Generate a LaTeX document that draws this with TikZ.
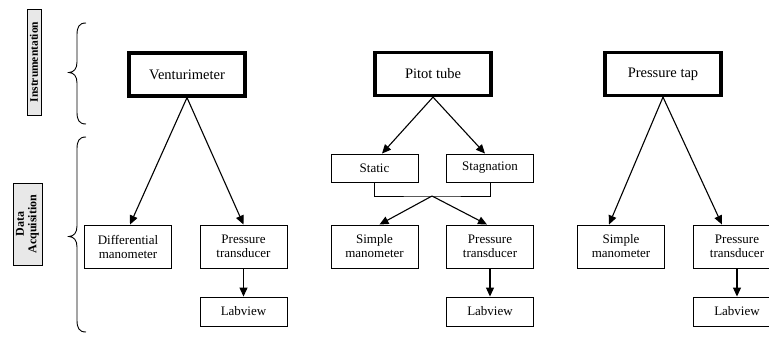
\documentclass[tikz,border=0pt]{standalone}
\usepackage{fontspec}
\setmainfont{Liberation Serif}
\usetikzlibrary{arrows.meta}
\begin{document}
\begin{tikzpicture}[x=1pt,y=-1pt,
  topbox/.style={draw, line width=3.2pt, minimum width=116pt, minimum height=43pt, inner sep=0pt,
    font=\fontsize{14.5}{16}\selectfont},
  box/.style={draw, line width=0.9pt, minimum width=87pt, inner sep=0pt, align=center,
    font=\fontsize{13}{14}\selectfont},
  lbl/.style={draw, line width=0.7pt, fill=black!9, inner sep=0pt, rotate=90, align=center,
    font=\bfseries},
  arr/.style={-{Triangle[length=9pt,width=8pt]}, line width=1.1pt},
  wire/.style={line width=0.9pt},
  brace/.style={line width=0.9pt}
]
\useasboundingbox (0,0) rectangle (769,337);

% side labels
\node[lbl, minimum width=106pt, minimum height=14pt, font=\fontsize{11.5}{12}\selectfont\bfseries] (instr) at (34,62) {Instrumentation};
\node[lbl, minimum width=82pt, minimum height=29pt, font=\fontsize{12}{12.5}\selectfont\bfseries] (daq) at (27.5,224) {Data\\Acquisition};

% braces
\draw[brace] (86,23) .. controls (79,23) and (77,27) .. (77,35) -- (77,62)
  .. controls (77,69) and (74,72) .. (69,72.5)
  .. controls (74,73) and (77,76) .. (77,83) -- (77,112)
  .. controls (77,120) and (79,124) .. (86,124);
\draw[brace] (86,137) .. controls (79,137) and (77,141) .. (77,149) -- (77,226)
  .. controls (77,233) and (74,236) .. (69,236.5)
  .. controls (74,237) and (77,240) .. (77,247) -- (77,320)
  .. controls (77,328) and (79,332) .. (86,332);

% column 1
\node[topbox] (vent) at (187,74.5) {Venturimeter};
\node[box, minimum height=43pt] (diff) at (128,246.5) {Differential\\manometer};
\node[box, minimum height=43pt] (pt1) at (243.5,246.5) {Pressure\\transducer};
\node[box, minimum height=29pt] (lv1) at (243.5,311.5) {Labview};
\draw[arr] (vent.south) -- ([xshift=2pt]diff.north);
\draw[arr] (vent.south) -- (pt1.north);
\draw[arr] (pt1.south) -- (lv1.north);

% column 2
\node[topbox] (pitot) at (433,74) {Pitot tube};
\node[box, minimum height=28pt] (static) at (374.5,168) {Static};
\node[box, minimum height=28pt] (stag) at (490,168) {Stagnation};
\node[box, minimum height=43pt] (sm2) at (374.5,246.5) {Simple\\manometer};
\node[box, minimum height=43pt] (pt2) at (490,246.5) {Pressure\\transducer};
\node[box, minimum height=29pt] (lv2) at (490,311.5) {Labview};
\coordinate (j) at (432,196);
\draw[arr] (pitot.south) -- ([xshift=7.5pt]static.north);
\draw[arr] (pitot.south) -- ([xshift=-5pt]stag.north);
\draw[wire] (static.south) |- (j) -| (stag.south);
\draw[arr] (j) -- ([xshift=5pt]sm2.north);
\draw[arr] (j) -- ([xshift=-3pt]pt2.north);
\draw[arr] (pt2.south) -- (lv2.north);

% column 3
\node[topbox] (ptap) at (663,74) {Pressure tap};
\node[box, minimum height=43pt] (sm3) at (621,246.5) {Simple\\manometer};
\node[box, minimum height=43pt] (pt3) at (737,246.5) {Pressure\\transducer};
\node[box, minimum height=29pt] (lv3) at (737,311.5) {Labview};
\draw[arr] (ptap.south) -- ([xshift=-12pt]sm3.north);
\draw[arr] (ptap.south) -- ([xshift=-15pt]pt3.north);
\draw[arr] (pt3.south) -- (lv3.north);
\end{tikzpicture}
\end{document}
